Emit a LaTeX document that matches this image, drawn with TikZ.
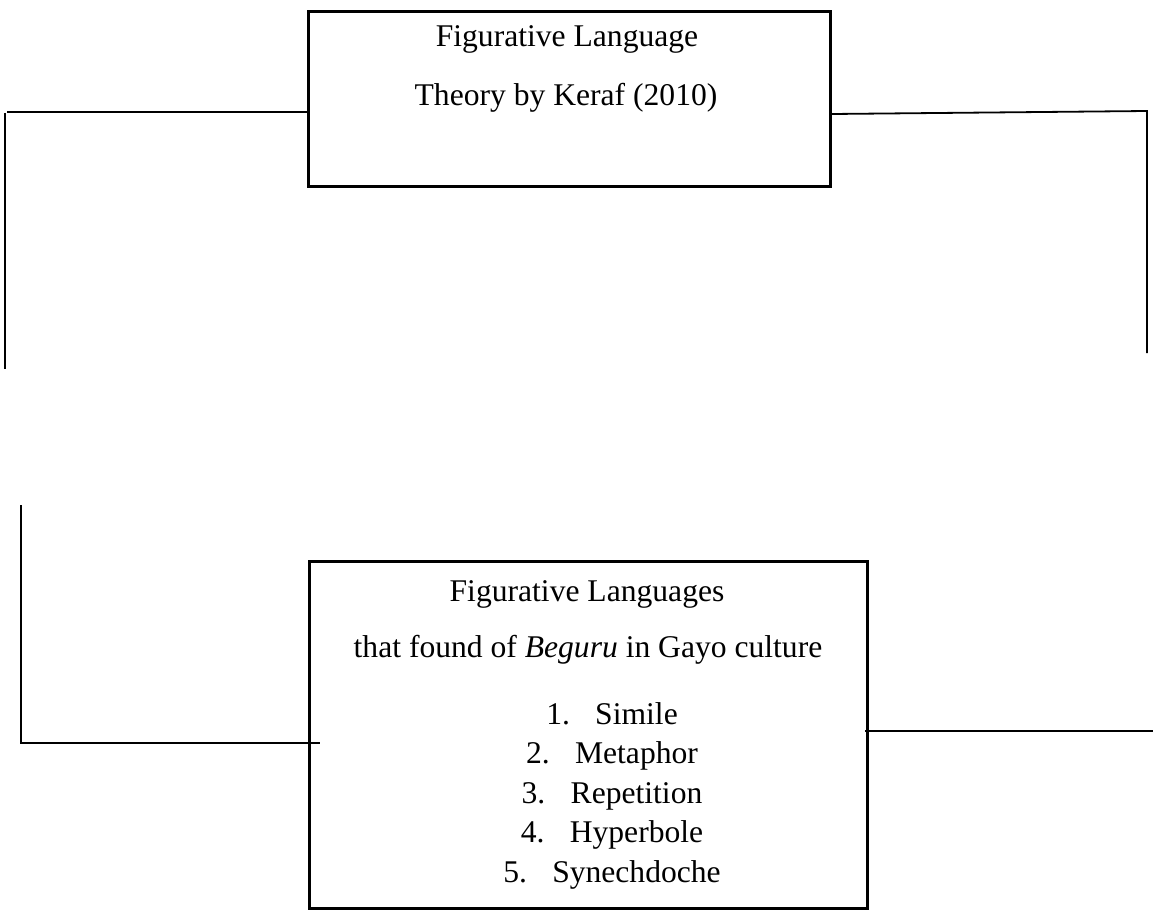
\documentclass[tikz,border=0pt]{standalone}
\usepackage{fontspec}
\setmainfont{Liberation Serif}
\usetikzlibrary{calc,positioning}

\begin{document}
\begin{tikzpicture}[x=0.5pt,y=-0.5pt,
    framebox/.style={draw,line width=1.5pt,inner sep=0pt,anchor=north west},
    boxtext/.style={anchor=base,inner sep=0pt,font=\fontsize{15.8}{19}\selectfont},
    wire/.style={line width=0.9pt}]
  \useasboundingbox (0,0) rectangle (1154,909);
  % theory box
  \node[framebox,minimum width=261pt,minimum height=87.5pt] (theory) at (307,10) {};
  \node[boxtext] (theoryA) at (567,47) {Figurative Language};
  \node[boxtext] (theoryB) at (566,106) {Theory by Keraf (2010)};
  % result box
  \node[framebox,minimum width=279pt,minimum height=173.5pt] (found) at (308,560) {};
  \node[boxtext] (foundA) at (587,601) {Figurative Languages};
  \node[boxtext] (foundB) at (588,657) {that found of \textit{Beguru} in Gayo culture};
  \foreach \name [count=\i] in {Simile,Metaphor,Repetition,Hyperbole,Synechdoche}
    \node[boxtext] (item\i) at (612,684.5+39.5*\i) {\i.\hspace{0.8em}\name};
  % lines on the left
  \coordinate (ltop) at (7,112);
  \coordinate (lturn) at (5,113);
  \coordinate (lend) at (5,369);
  \draw[wire] (theory.west |- ltop) -- (ltop);
  \draw[wire] (lturn) -- (lend);
  \coordinate (lbot) at (21,505);
  \coordinate (lcorner) at (21,743);
  \draw[wire] (lbot) -- (lcorner) -- ($(found.west |- lcorner)+(12,0)$);
  % lines on the right
  \coordinate (rtop) at (1147,111);
  \coordinate (rend) at (1147,353);
  \draw[wire] ($(theory.north east)+(0,104)$) -- (rtop) -- (rend);
  \coordinate (rbot) at (1153,731);
  \draw[wire] ($(found.east |- rbot)+(-4,0)$) -- (rbot);
\end{tikzpicture}
\end{document}
